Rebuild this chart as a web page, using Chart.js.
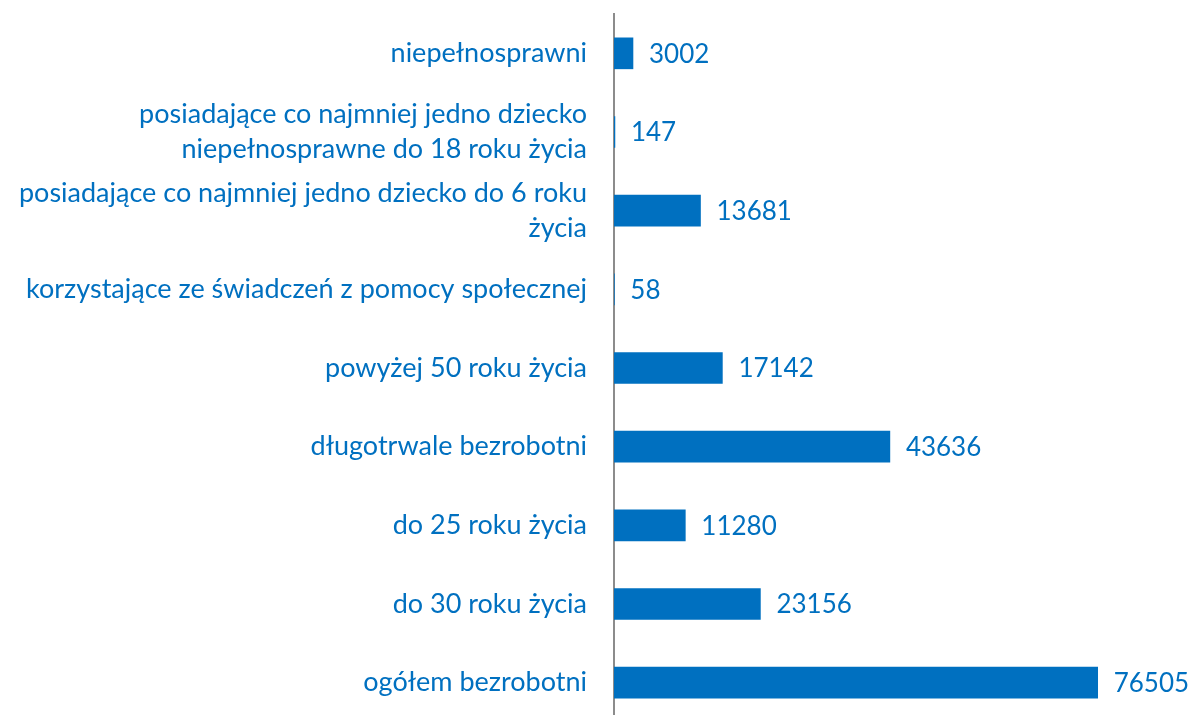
<!DOCTYPE html>
<html>
<head>
<meta charset="utf-8">
<script src="https://cdn.jsdelivr.net/npm/chart.js@4"></script>
<style>
  html, body { margin: 0; padding: 0; background: #fff; overflow: hidden; }
  #wrap { width: 1203px; height: 722px; position: relative; }
</style>
</head>
<body>
<div id="wrap"><canvas id="barChart"></canvas></div>
<script>
const categories = [
  'niepełnosprawni',
  ['posiadające co najmniej jedno dziecko', 'niepełnosprawne do 18 roku życia'],
  ['posiadające co najmniej jedno dziecko do 6 roku', 'życia'],
  'korzystające ze świadczeń z pomocy społecznej',
  'powyżej 50 roku życia',
  'długotrwale bezrobotni',
  'do 25 roku życia',
  'do 30 roku życia',
  'ogółem bezrobotni'
];
const values = [3002, 147, 13681, 58, 17142, 43636, 11280, 23156, 76505];

const blue = '#0070C0';
const fontFamily = 'Lato, "Open Sans", sans-serif';

const valueLabels = {
  id: 'valueLabels',
  afterDatasetsDraw(chart) {
    const c = chart.ctx;
    const meta = chart.getDatasetMeta(0);
    c.save();
    c.font = '26px ' + fontFamily;
    c.fillStyle = blue;
    c.textAlign = 'left';
    c.textBaseline = 'middle';
    meta.data.forEach((bar, i) => {
      c.fillText(String(values[i]), bar.x + 16, bar.y + 1);
    });
    c.restore();
  }
};

new Chart(document.getElementById('barChart'), {
  type: 'bar',
  data: {
    labels: categories,
    datasets: [{
      data: values,
      backgroundColor: blue,
      barThickness: 31
    }]
  },
  options: {
    indexAxis: 'y',
    responsive: true,
    maintainAspectRatio: false,
    animation: false,
    layout: { padding: { top: 14, right: 20, bottom: 0, left: 0 } },
    plugins: {
      legend: { display: false },
      tooltip: { enabled: false }
    },
    scales: {
      x: {
        display: false,
        min: 0,
        max: 90000
      },
      y: {
        afterFit(scale) {
          scale.width = 614;
          scale.paddingTop = 0;
          scale.paddingBottom = 0;
        },
        grid: { display: false, drawTicks: false },
        border: { display: true, color: '#8c8c8c', width: 2 },
        ticks: {
          color: blue,
          padding: 27,
          font: { family: fontFamily, size: 27, lineHeight: 1.3 }
        }
      }
    }
  },
  plugins: [valueLabels]
});
</script>
</body>
</html>
